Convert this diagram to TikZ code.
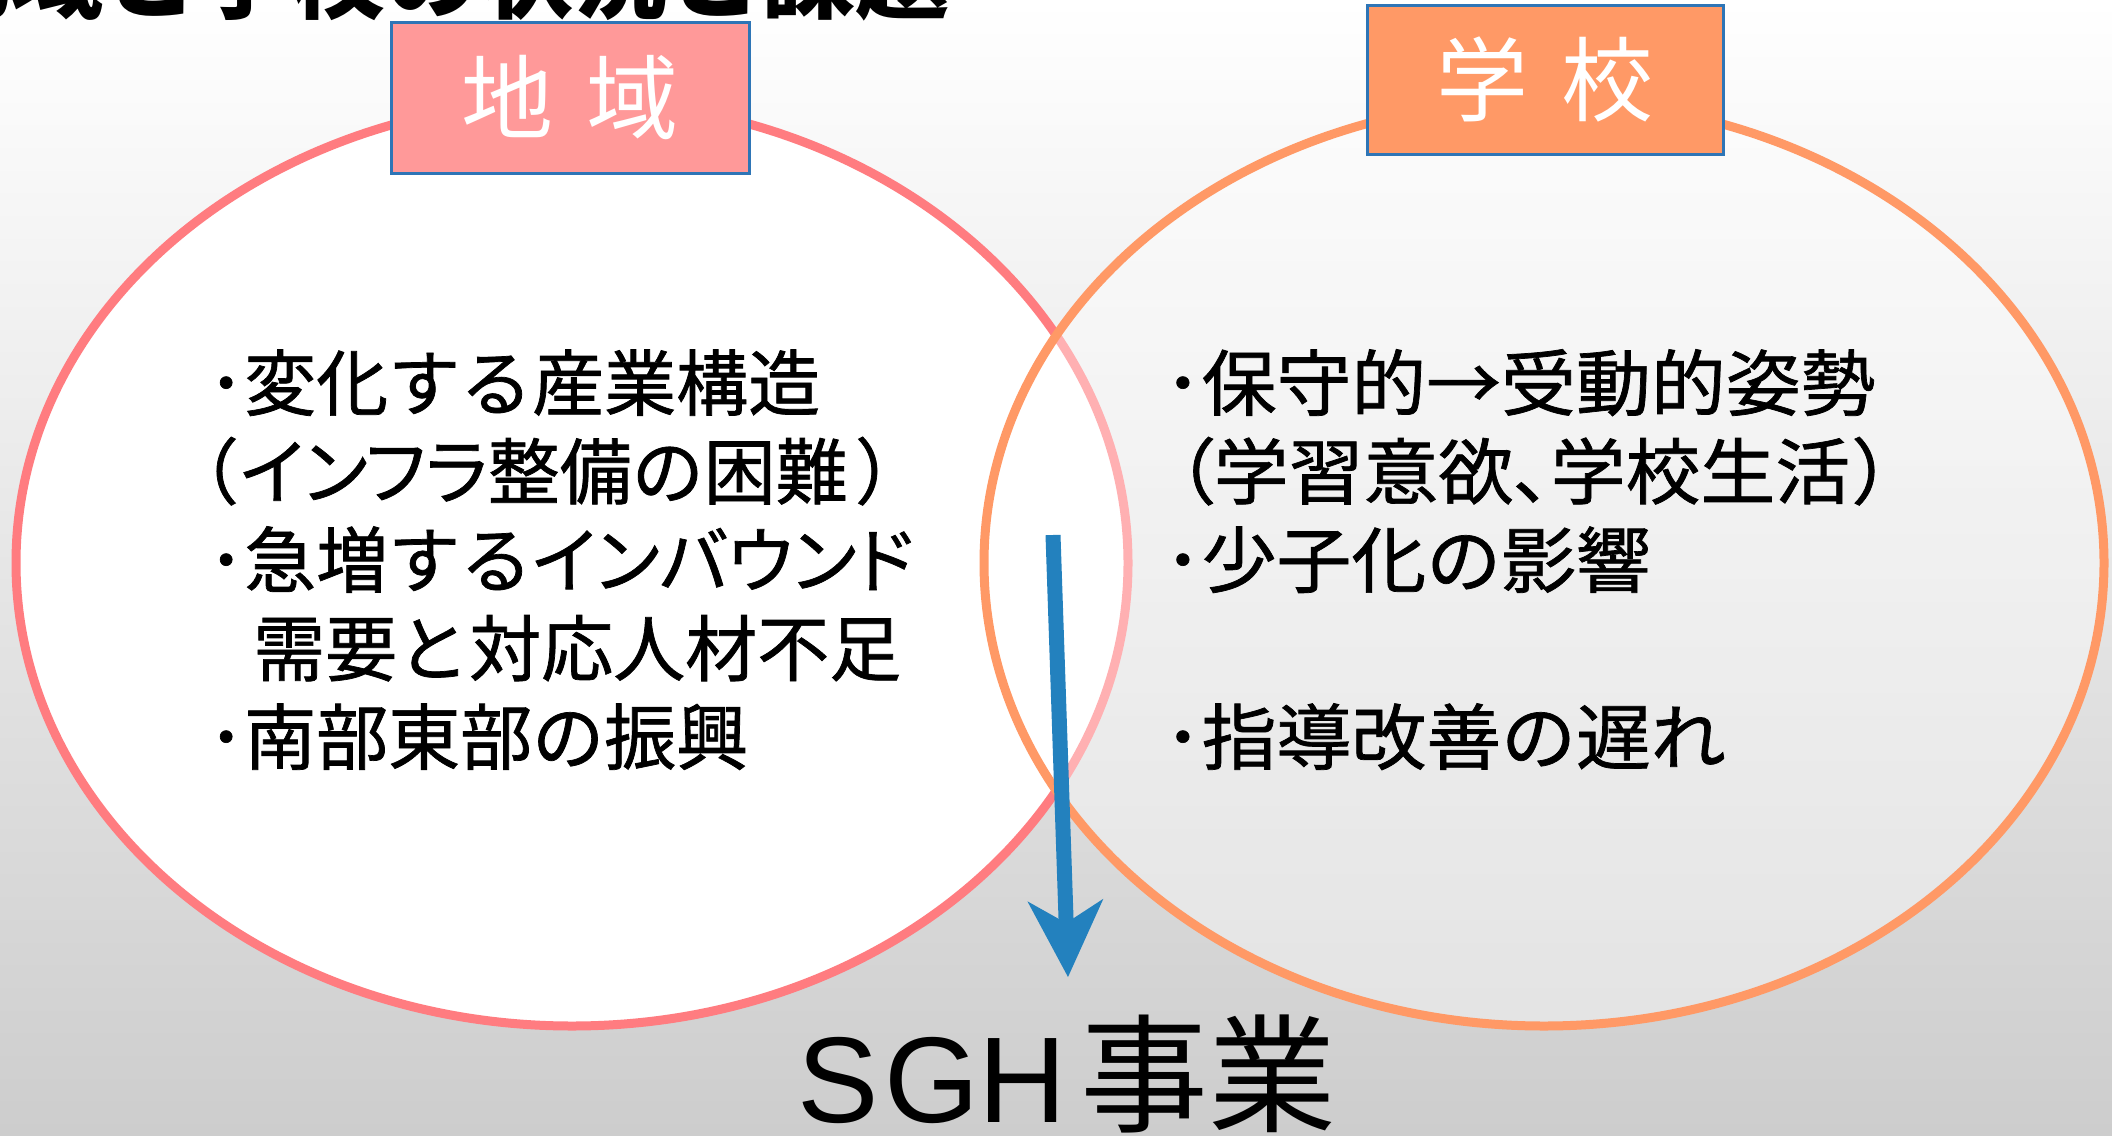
\documentclass[tikz,border=0pt]{standalone}
\usepackage{fontspec}
\usetikzlibrary{arrows.meta}
\newfontfamily\jpleft{Noto Sans CJK JP}[FakeBold=1]
\newfontfamily\jpleftp{Noto Sans CJK JP}[FakeBold=1,RawFeature=+palt]
\newfontfamily\jpright{Noto Sans CJK JP}[FakeStretch=1.04,FakeBold=1]
\newfontfamily\jprightp{Noto Sans CJK JP}[FakeStretch=1.04,FakeBold=1,RawFeature=+palt]
\newfontfamily\jphead{Noto Sans CJK JP}
\newfontfamily\sghfont{Liberation Sans}
\definecolor{pinkline}{HTML}{FF7C80}
\definecolor{orangeline}{HTML}{FF9966}
\definecolor{pinkbox}{HTML}{FF9999}
\definecolor{orangebox}{HTML}{FF9966}
\definecolor{boxborder}{HTML}{2E75B6}
\definecolor{arrowblue}{HTML}{2381BE}
\definecolor{bgmid}{HTML}{EEEEEE}
\definecolor{bgbottom}{HTML}{CDCDCD}
\tikzset{
  lefttext/.style={anchor=base west, inner sep=0pt, text=black,
    font=\jpleft\fontsize{72pt}{72pt}\selectfont},
  righttext/.style={anchor=base west, inner sep=0pt, text=black,
    font=\jpright\fontsize{72pt}{72pt}\selectfont},
  titlebox/.style={draw=boxborder, line width=3pt, inner sep=0pt, text=white,
    font=\jphead\fontsize{92pt}{92pt}\selectfont},
  ring/.style={line width=9pt}
}
\begin{document}
\begin{tikzpicture}[x=1pt,y=-1pt]
\useasboundingbox (0,0) rectangle (2112,1135);
\shade[top color=white, middle color=bgmid, bottom color=bgbottom] (0,0) rectangle (2112,1135);
% clipped title at top
\node[anchor=base east, inner sep=0pt, font=\jphead\bfseries\fontsize{94pt}{94pt}\selectfont] (title) at (950,12) {地域と学校の状況と課題};
% ellipses
\draw[ring, pinkline, fill=white] (572,563) ellipse [x radius=556, y radius=463];
\draw[ring, orangeline, fill=white, fill opacity=0.4] (1544,563) ellipse [x radius=560, y radius=463];
% boxes
\node[titlebox, fill=pinkbox, minimum width=358pt, minimum height=151pt] (chiiki) at (570,97.5) {地\hspace{0.36em}域};
\node[titlebox, fill=orangebox, minimum width=356pt, minimum height=149pt] (gakko) at (1545,79.5) {学\hspace{0.36em}校};
% left text
\node[lefttext] (l1) at (208,410) {･変化する産業構造};
\node[lefttext] (l2) at (200,498.5) {{\jpleftp（\kern4pt インフラ}整備の困難{\jpleftp\kern10pt ）}};
\node[lefttext] (l3) at (208,587) {･急増する{\jpleftp インバウンド}};
\node[lefttext] (l4) at (253,675.5) {需要と対応人材不足};
\node[lefttext] (l5) at (208,764) {･南部東部の振興};
% right text
\node[righttext] (r1) at (1164,410) {･保守的→受動的姿勢};
\node[righttext] (r2) at (1176,498.5) {{\jprightp（}学習意欲{\jprightp、}学校生活{\jprightp\kern4pt ）}};
\node[righttext] (r3) at (1164,587) {･少子化の影響};
\node[righttext] (r5) at (1164,764) {･指導改善の遅れ};
% bottom label
\node[anchor=base west, inner sep=0pt] (sgh) at (797,1122) {{\sghfont\fontsize{122pt}{122pt}\selectfont S\kern6pt G\kern-1pt H}\kern14pt{\jphead\fontsize{128pt}{128pt}\selectfont 事業}};
% arrow
\coordinate (astart) at (1053,535);
\coordinate (aend) at (1068,977);
\draw[arrowblue, line width=15pt, -{Stealth[length=77pt,width=76pt,inset=23pt,line width=0pt]}] (astart) -- (aend);
\end{tikzpicture}
\end{document}
